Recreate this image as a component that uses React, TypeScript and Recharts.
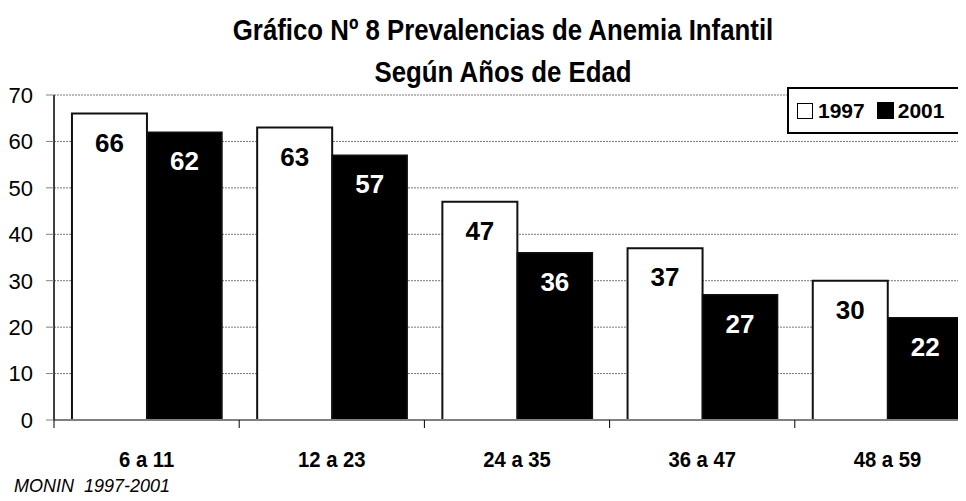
import React from 'react';
import { BarChart, Bar, XAxis, YAxis, CartesianGrid, LabelList } from 'recharts';

const ageGroups = ['6 a 11', '12 a 23', '24 a 35', '36 a 47', '48 a 59'];
const values1997 = [66, 63, 47, 37, 30];
const values2001 = [62, 57, 36, 27, 22];
const yTicks = [0, 10, 20, 30, 40, 50, 60, 70];

const data = ageGroups.map((g, i) => ({ group: g, y1997: values1997[i], y2001: values2001[i] }));

const SANS = "'Liberation Sans', Arial, sans-serif";

const CategoryTick = (props: any) => {
  const { x, y, payload, index, visibleTicksCount } = props;
  const half = payload && payload.offset ? payload.offset : 92.6;
  return (
    <g>
      <line x1={x - half} x2={x - half} y1={y} y2={y + 8} stroke="#000" strokeWidth={1} />
      {index === visibleTicksCount - 1 && (
        <line x1={x + half} x2={x + half} y1={y} y2={y + 8} stroke="#000" strokeWidth={1} />
      )}
      <text
        transform={`translate(${x},${y + 47}) scale(0.92,1)`}
        textAnchor="middle"
        fontFamily={SANS}
        fontWeight="bold"
        fontSize={22}
        fill="#000"
      >
        {payload.value}
      </text>
    </g>
  );
};

const valueLabel = (color: string) => (props: any) => {
  const { x, y, width, value } = props;
  return (
    <text x={x + width / 2} y={y + 38} textAnchor="middle" fontFamily={SANS} fontWeight="bold" fontSize={26} fill={color}>
      {value}
    </text>
  );
};

export default function App() {
  return (
    <div style={{ position: 'relative', width: 966, height: 501, overflow: 'hidden', margin: -8, background: '#fff' }}>
      <BarChart
        width={1000}
        height={501}
        data={data}
        margin={{ top: 95, right: 20, bottom: 21, left: 0 }}
        barCategoryGap="9.7%"
        barGap={0}
      >
        <CartesianGrid vertical={false} stroke="#777" strokeDasharray="2 1" />
        <XAxis
          dataKey="group"
          interval={0}
          tickLine={false}
          tickSize={0}
          tickMargin={0}
          height={60}
          axisLine={{ stroke: '#808080', strokeWidth: 2 }}
          tick={<CategoryTick />}
        />
        <YAxis
          domain={[0, 70]}
          ticks={yTicks}
          width={54}
          tickSize={8}
          tickMargin={13}
          tickLine={{ stroke: '#808080' }}
          axisLine={{ stroke: '#000', strokeWidth: 1.5 }}
          tick={{ fontFamily: SANS, fontSize: 22, fill: '#000' }}
        />
        <Bar dataKey="y1997" name="1997" fill="#fff" stroke="#111" strokeWidth={2} isAnimationActive={false}>
          <LabelList dataKey="y1997" content={valueLabel('#000')} />
        </Bar>
        <Bar dataKey="y2001" name="2001" fill="#000" stroke="#111" strokeWidth={1.5} isAnimationActive={false}>
          <LabelList dataKey="y2001" content={valueLabel('#fff')} />
        </Bar>
      </BarChart>
      <div
        style={{
          position: 'absolute',
          left: 103,
          top: 9,
          width: 800,
          textAlign: 'center',
          fontFamily: SANS,
          fontWeight: 'bold',
          fontSize: 30,
          lineHeight: '42px',
          color: '#000',
          whiteSpace: 'nowrap',
          transform: 'scaleX(0.86)',
          transformOrigin: '400px 0',
        }}
      >
        <div>Gráfico Nº 8 Prevalencias de Anemia Infantil</div>
        <div>Según Años de Edad</div>
      </div>
      <div
        style={{
          position: 'absolute',
          left: 787,
          top: 87,
          width: 171,
          height: 43,
          border: '2px solid #000',
          background: '#fff',
          display: 'flex',
          alignItems: 'center',
          fontFamily: SANS,
          fontWeight: 'bold',
          fontSize: 21,
          color: '#000',
        }}
      >
        <span style={{ display: 'inline-block', width: 14, height: 14, border: '1.5px solid #000', background: '#fff', marginLeft: 8, marginRight: 5 }} />
        <span>1997</span>
        <span style={{ display: 'inline-block', width: 17, height: 17, background: '#000', marginLeft: 12, marginRight: 4 }} />
        <span>2001</span>
      </div>
      <div
        style={{
          position: 'absolute',
          left: 14,
          top: 476,
          fontFamily: SANS,
          fontStyle: 'italic',
          fontSize: 18,
          color: '#000',
          whiteSpace: 'pre',
        }}
      >
        MONIN  1997-2001
      </div>
    </div>
  );
}
